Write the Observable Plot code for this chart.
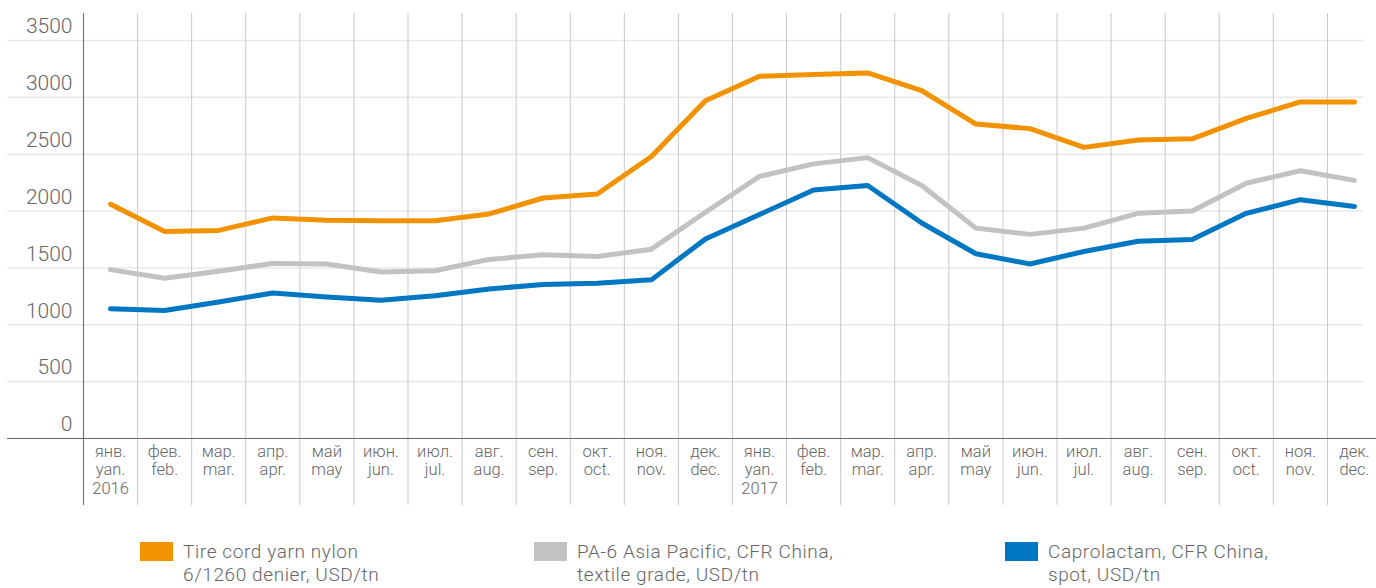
<!DOCTYPE html>
<html>
<head>
<meta charset="utf-8">
<script src="https://cdn.jsdelivr.net/npm/d3@7"></script>
<script src="https://cdn.jsdelivr.net/npm/@observablehq/plot@0.6"></script>
<style>
  html, body { margin: 0; padding: 0; background: #fff; }
  body { width: 1376px; height: 588px; overflow: hidden; font-family: Roboto, "Liberation Sans", sans-serif; }
  #chart svg { display: block; }
  #legend { position: relative; height: 76px; }
  .item { position: absolute; top: 30px; display: flex; align-items: flex-start; }
  .sw { width: 33px; height: 19px; margin-right: 10px; flex: none; }
  .lbl { margin-top: -1px; }
  .ln { font-size: 19px; letter-spacing: 0.6px; line-height: 22.5px; height: 22.5px; color: #666; font-weight: 300; white-space: nowrap; }
</style>
</head>
<body>
<div id="chart"></div>
<div id="legend"></div>
<script>
const monthsRu = ["янв.","фев.","мар.","апр.","май","июн.","июл.","авг.","сен.","окт.","ноя.","дек."];
const monthsEn = ["yan.","feb.","mar.","apr.","may","jun.","jul.","aug.","sep.","oct.","nov.","dec."];
const years = ["2016", "2017"];
const yTicks = [0, 500, 1000, 1500, 2000, 2500, 3000, 3500];

const seriesNames = [
  "Tire cord yarn nylon\n6/1260 denier, USD/tn",
  "PA-6 Asia Pacific, CFR China,\ntextile grade, USD/tn",
  "Caprolactam, CFR China,\nspot, USD/tn"
];
const seriesColors = ["#F39200", "#C2C2C2", "#0077C2"];

const tireCord = [2060,1820,1830,1940,1920,1915,1915,1975,2115,2150,2480,2970,3185,3200,3215,3060,2765,2725,2560,2625,2635,2815,2960,2960];
const pa6      = [1485,1410,1470,1540,1535,1465,1475,1575,1615,1600,1665,1990,2305,2415,2470,2225,1850,1795,1850,1980,2000,2245,2355,2270];
const capro    = [1140,1125,1200,1280,1245,1215,1255,1315,1355,1365,1395,1755,1970,2185,2225,1895,1625,1535,1645,1735,1750,1980,2100,2040];

const seriesValues = [tireCord, pa6, capro];

const idx = d3.range(24);
const rows = seriesValues.flatMap((vals, s) => vals.map((v, i) => ({i, v, s: seriesNames[s]})));
const xLabels = idx.map(i => {
  const m = i % 12;
  let t = monthsRu[m] + "\n" + monthsEn[m];
  if (m === 0) t += "\n" + years[Math.floor(i / 12)];
  return t;
});
const gridX = d3.range(0.5, 23, 1);

const font = "Roboto, 'Liberation Sans', sans-serif";

const chart = Plot.plot({
  width: 1376,
  height: 512,
  marginTop: 40,
  marginBottom: 74,
  marginLeft: 83,
  marginRight: 0,
  style: {fontFamily: font, background: "#fff", overflow: "visible"},
  x: {domain: [-0.5, 23.5], range: [83, 1381], axis: null},
  y: {domain: [0, 3500], axis: null},
  color: {domain: seriesNames, range: seriesColors},
  marks: [
    Plot.ruleY(yTicks.slice(1), {stroke: "#e8e8e8", strokeWidth: 1.5, insetLeft: -76, insetRight: 13}),
    Plot.ruleX(gridX, {stroke: "#c9c9c9", strokeWidth: 1, insetTop: -27, insetBottom: -67}),
    Plot.ruleX([-0.5], {stroke: "#777", strokeWidth: 1.2, insetTop: -27, insetBottom: -67}),
    Plot.ruleY([0], {stroke: "#666", strokeWidth: 1.2, insetLeft: -76}),
    Plot.text(yTicks, {x: -0.5, y: d => d, text: d => String(d), textAnchor: "end", dx: -11, dy: -14, fontSize: 21, fill: "#666", fontWeight: 300}),
    Plot.text(idx, {x: d => d, text: d => xLabels[d], frameAnchor: "bottom", lineAnchor: "top", dy: 5, fontSize: 16.5, lineHeight: 1.12, fill: "#666", fontWeight: 300}),
    Plot.line(rows, {x: "i", y: "v", z: "s", stroke: "s", strokeWidth: 5, strokeLinejoin: "round", strokeLinecap: "round"})
  ]
});
document.getElementById("chart").appendChild(chart);

const legend = document.getElementById("legend");
const lefts = [140, 534, 1005];
seriesNames.forEach((name, k) => {
  const item = document.createElement("div");
  item.className = "item";
  item.style.left = lefts[k] + "px";
  const sw = document.createElement("div");
  sw.className = "sw";
  sw.style.background = seriesColors[k];
  const lbl = document.createElement("div");
  lbl.className = "lbl";
  name.split("\n").forEach(line => {
    const ln = document.createElement("div");
    ln.className = "ln";
    ln.textContent = line;
    lbl.appendChild(ln);
  });
  item.appendChild(sw);
  item.appendChild(lbl);
  legend.appendChild(item);
});
</script>
</body>
</html>
